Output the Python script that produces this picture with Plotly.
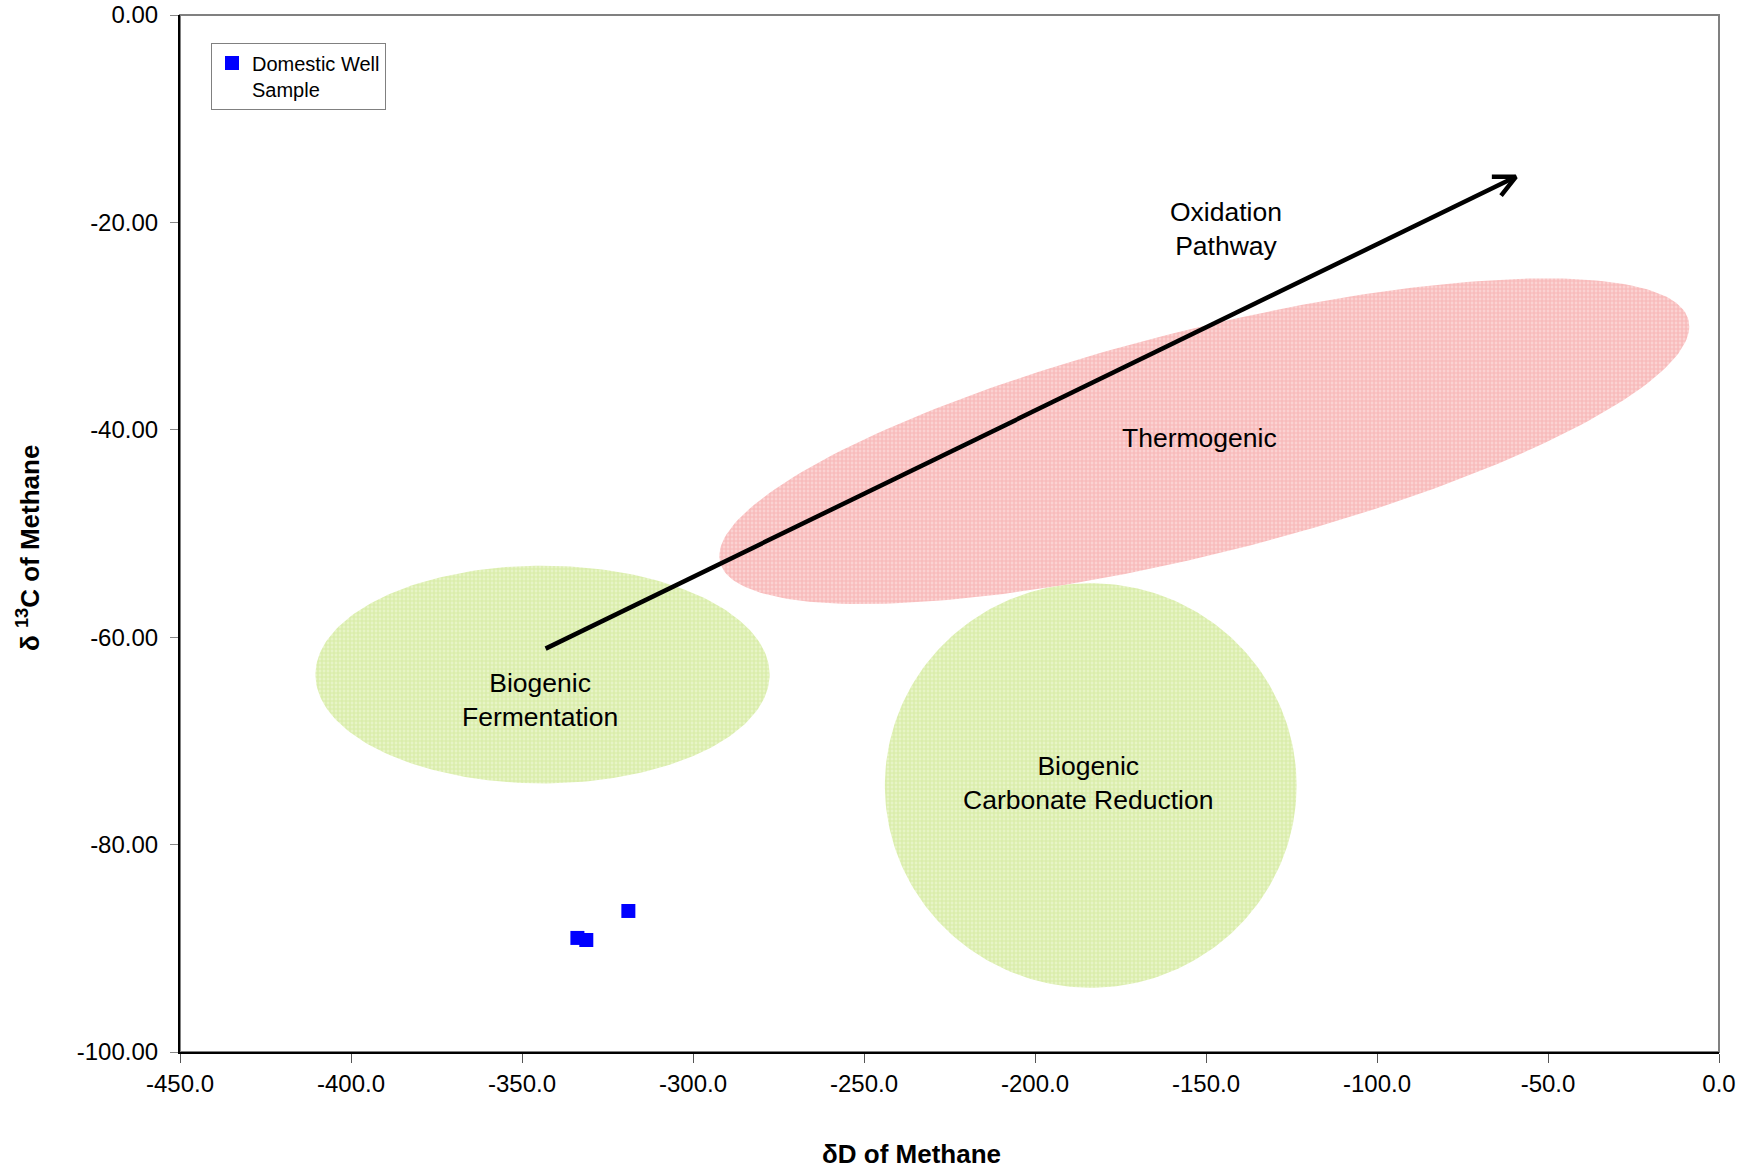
import numpy as np
import plotly.graph_objects as go

# ---- data ----
sample_dD = [-318.9, -333.8, -331.2]
sample_d13C = [-86.4, -89.0, -89.2]
sample_name = "Domestic Well<br>Sample"

# fields: centre x, centre y, half x-extent, half y-extent, tilt phase (deg)
zone_names = ["Thermogenic", "Biogenic Fermentation", "Biogenic Carbonate Reduction"]
zone_cx = [-150.5, -344.0, -183.7]
zone_cy = [-41.1, -63.6, -74.3]
zone_hx = [141.8, 66.4, 60.2]
zone_hy = [15.7, 10.5, 19.5]
zone_phase = [45.2, 90.0, 90.0]
zone_fg = ["#f39a9a", "#c6e384", "#c6e384"]
zone_bg = ["#fbd2d2", "#e7f4c6", "#e7f4c6"]

label_text = ["Thermogenic", "Biogenic<br>Fermentation", "Biogenic<br>Carbonate Reduction", "Oxidation<br>Pathway"]
label_x = [-151.8, -344.6, -184.4, -144.1]
label_y = [-40.8, -66.1, -74.1, -20.6]

arrow_start = (-343.1, -61.1)
arrow_end = (-59.4, -15.6)

x_tickvals = [-450, -400, -350, -300, -250, -200, -150, -100, -50, 0]
x_ticktext = ["-450.0", "-400.0", "-350.0", "-300.0", "-250.0", "-200.0", "-150.0", "-100.0", "-50.0", "0.0"]
y_tickvals = [0, -20, -40, -60, -80, -100]
y_ticktext = ["0.00", "-20.00", "-40.00", "-60.00", "-80.00", "-100.00"]

x_title = "<b>δD of Methane</b>"
y_title = "<b>δ <sup>13</sup>C of Methane</b>"

FONT = "Liberation Sans"

# ---- layout constants ----
W, H = 1754, 1172
ML, MR, MT, MB = 180, 35, 15, 120
xr = [-450, 0]
yr = [-100, 0]
pw = W - ML - MR
ph_ = H - MT - MB
pxx = pw / (xr[1] - xr[0])
pxy = ph_ / (yr[1] - yr[0])

fig = go.Figure()

t = np.linspace(0, 2 * np.pi, 240)
for i, name in enumerate(zone_names):
    ph = np.deg2rad(zone_phase[i])
    ex = zone_cx[i] + zone_hx[i] * np.cos(t)
    ey = zone_cy[i] + zone_hy[i] * np.cos(t - ph)
    fig.add_trace(go.Scatter(
        x=ex, y=ey, mode="lines", fill="toself",
        line=dict(width=0, color=zone_fg[i]),
        fillcolor=zone_bg[i],
        fillpattern=dict(shape="+", fgcolor=zone_fg[i], bgcolor=zone_bg[i], size=4, solidity=0.5),
        hoverinfo="skip", showlegend=False, name=name))

# arrow shaft + open head (head arms computed in pixel space)
sx, sy = arrow_start
ex_, ey_ = arrow_end
dxp = (ex_ - sx) * pxx
dyp = (ey_ - sy) * pxy
ang = np.arctan2(dyp, dxp)
arm = 24
spread = np.deg2rad(26)
hx_ = []
hy_ = []
for s in (+1, -1):
    a = ang + np.pi + s * spread
    hx_.append(ex_ + arm * np.cos(a) / pxx)
    hy_.append(ey_ + arm * np.sin(a) / pxy)
fig.add_trace(go.Scatter(
    x=[sx, ex_, None, hx_[0], ex_, hx_[1]],
    y=[sy, ey_, None, hy_[0], ey_, hy_[1]],
    mode="lines", line=dict(color="black", width=4.5),
    hoverinfo="skip", showlegend=False))

fig.add_trace(go.Scatter(
    x=sample_dD, y=sample_d13C, mode="markers", name=sample_name,
    marker=dict(symbol="square", size=14, color="#0000ff", line=dict(width=0))))

for txt, lx, ly in zip(label_text, label_x, label_y):
    fig.add_annotation(x=lx, y=ly, text=txt, showarrow=False,
                       font=dict(family=FONT, size=26.5, color="black"),
                       xanchor="center", yanchor="middle")

# axis titles (placed off-centre as in the original)
fig.add_annotation(xref="paper", yref="paper", x=(911.6 - ML) / pw, y=-(1154.4 - (H - MB)) / ph_,
                   text=x_title, showarrow=False, xanchor="center", yanchor="middle",
                   font=dict(family=FONT, size=26, color="black"))
fig.add_annotation(xref="paper", yref="paper", x=(28 - ML) / pw, y=1 - (548.1 - MT) / ph_,
                   text=y_title, showarrow=False, xanchor="center", yanchor="middle", textangle=-90,
                   font=dict(family=FONT, size=26, color="black"))

# grey frame (top/right)
fig.add_shape(type="rect", xref="paper", yref="paper", x0=0, y0=0, x1=1, y1=1,
              line=dict(color="#808080", width=2), layer="below")

fig.update_layout(
    width=W, height=H,
    margin=dict(l=ML, r=MR, t=MT, b=MB, autoexpand=False),
    paper_bgcolor="white", plot_bgcolor="white",
    font=dict(family=FONT, color="black"),
    legend=dict(x=(211 - ML) / pw, y=1 - (42.5 - MT) / ph_, xanchor="left", yanchor="top",
                bgcolor="white", bordercolor="#808080", borderwidth=1,
                font=dict(family=FONT, size=20, color="black"), valign="top",
                tracegroupgap=0),
    showlegend=True,
)
fig.update_xaxes(range=xr, tickvals=x_tickvals, ticktext=x_ticktext, automargin=False,
                 showgrid=False, zeroline=False, showline=True, linecolor="black", linewidth=2,
                 ticks="outside", ticklen=9, tickcolor="#555555", tickwidth=1,
                 ticklabeloverflow="allow",
                 tickfont=dict(family=FONT, size=24, color="black"))
fig.update_yaxes(range=yr, tickvals=y_tickvals, ticktext=y_ticktext, automargin=False,
                 showgrid=False, zeroline=False, showline=True, linecolor="black", linewidth=2,
                 ticks="outside", ticklen=8, tickcolor="#888888", tickwidth=1, ticklabelstandoff=7,
                 ticklabeloverflow="allow",
                 tickfont=dict(family=FONT, size=24, color="black"))

fig.write_html("out.html", config={"displayModeBar": False},
               post_script="document.body.style.margin='0';document.body.style.overflow='hidden';")
